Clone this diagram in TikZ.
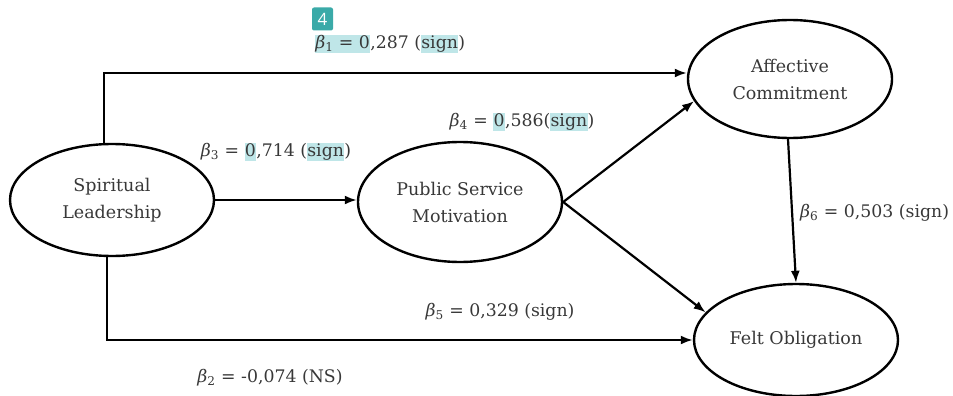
\documentclass[tikz,border=0pt]{standalone}
\usepackage{fontspec}
\setmainfont{DejaVu Serif}
\setsansfont{Open Sans}
\usetikzlibrary{shapes.geometric,arrows.meta,calc}
\definecolor{txt}{HTML}{383838}
\definecolor{hlc}{HTML}{BFE6E8}
\definecolor{badge}{HTML}{3AAAA8}
\newcommand\hlt[1]{{\setlength{\fboxsep}{0.3pt}\colorbox{hlc}{\vphantom{(g}#1}}}
\newcommand\bt[1]{\textit{β}\textsubscript{\upshape #1}}
\begin{document}
\begin{tikzpicture}[x=1pt,y=-1pt,
  el/.style={draw=black,line width=2.4pt,ellipse,minimum width=204pt,minimum height=112pt,inner sep=0pt,align=center,text=txt,font=\fontsize{17.5}{27}\selectfont},
  arr/.style={draw=black,line width=2.2pt,-{Latex[length=12pt,width=9pt]}},
  lbl/.style={text=txt,font=\fontsize{17.3}{20}\selectfont,inner sep=0pt}]
\useasboundingbox (0,0) rectangle (953,396);
\node[el] (sl) at (112,200) {Spiritual\\Leadership};
\node[el,minimum height=120pt] (psm) at (460,202) {Public Service\\Motivation};
\node[el,minimum height=118pt] (ac) at (790,79) {Affective\\Commitment};
\node[el,minimum height=112pt] (fo) at (796,340) {Felt Obligation};
\draw[arr] ([xshift=-8pt]sl.north) |- ([yshift=6pt]ac.west);
\draw[arr] ([xshift=-5pt]sl.south) |- (fo.west);
\draw[arr] (sl.east) -- (psm.west |- sl.east);
\draw[arr] (psm.east) -- (ac.193);
\draw[arr] (psm.east) -- (fo.163);
\draw[arr] ([xshift=-2pt]ac.south) -- (fo.north);
\node[lbl] (l1) at (390,44) {\hlt{\bt{1} = 0},287 (\hlt{sign})};
\node[fill=badge,rounded corners=2pt,minimum width=21pt,minimum height=23pt,inner sep=0pt,text=white,font=\sffamily\fontsize{17}{17}\selectfont] (bd) at (322.5,19) {4};
\node[lbl] (l3) at (276,152) {\bt{3} = \hlt{0},714 (\hlt{sign})};
\node[lbl] (l4) at (522,122) {\bt{4} = \hlt{0},586(\hlt{sign})};
\node[lbl,anchor=west] (l6) at (800,213) {\bt{6} = 0,503 (sign)};
\node[lbl] (l5) at (500,312) {\bt{5} = 0,329 (sign)};
\node[lbl] (l2) at (270,378) {\bt{2} = -0,074 (NS)};
\end{tikzpicture}
\end{document}
